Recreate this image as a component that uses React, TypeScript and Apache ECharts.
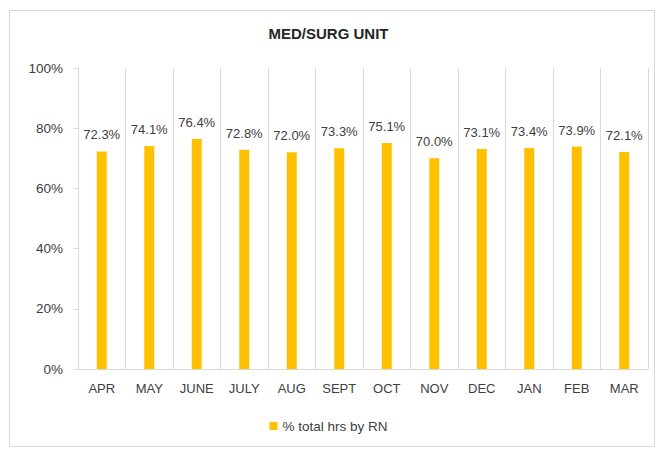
import React, { useEffect, useRef } from "react";
import * as echarts from "echarts";

const months = ["APR", "MAY", "JUNE", "JULY", "AUG", "SEPT", "OCT", "NOV", "DEC", "JAN", "FEB", "MAR"];
const rnPercent = [72.3, 74.1, 76.4, 72.8, 72.0, 73.3, 75.1, 70.0, 73.1, 73.4, 73.9, 72.1];
const seriesName = "% total hrs by RN";
const chartTitle = "MED/SURG UNIT";

export default function App() {
  const ref = useRef<HTMLDivElement>(null);
  useEffect(() => {
    document.body.style.margin = "0";
    const chart = echarts.init(ref.current!, null, { renderer: "svg" });
    const font = "Liberation Sans, Arial, sans-serif";
    chart.setOption({
      animation: false,
      backgroundColor: "#ffffff",
      textStyle: { fontFamily: font },
      graphic: [
        {
          type: "rect",
          shape: { x: 9.5, y: 10.5, width: 645, height: 436 },
          style: { fill: "none", stroke: "#D9D9D9", lineWidth: 1 },
          silent: true,
        },
      ],
      title: {
        text: chartTitle,
        left: "center",
        top: 21,
        textStyle: { fontSize: 15, fontWeight: "bold", color: "#262626", fontFamily: font },
      },
      legend: {
        bottom: 11,
        left: "center",
        itemWidth: 8,
        itemHeight: 8,
        icon: "rect",
        itemGap: 6,
        textStyle: { fontSize: 13.5, color: "#404040", fontFamily: font },
        data: [seriesName],
      },
      grid: { left: 78, right: 9, top: 68, bottom: 80, containLabel: false },
      xAxis: {
        type: "category",
        data: months,
        boundaryGap: true,
        axisLine: { show: true, lineStyle: { color: "#D9D9D9", width: 1 } },
        axisTick: { show: false },
        splitLine: { show: true, lineStyle: { color: "#D9D9D9", width: 1 } },
        axisLabel: { color: "#404040", fontSize: 13, margin: 13, fontFamily: font },
      },
      yAxis: {
        type: "value",
        min: 0,
        max: 100,
        interval: 20,
        axisLine: { show: true, lineStyle: { color: "#D9D9D9", width: 1 } },
        axisTick: { show: true, length: 5, lineStyle: { color: "#D9D9D9" } },
        splitLine: { show: false },
        axisLabel: {
          color: "#404040",
          fontSize: 13.5,
          margin: 15,
          fontFamily: font,
          formatter: (v: number) => v + "%",
        },
      },
      series: [
        {
          name: seriesName,
          type: "bar",
          data: rnPercent,
          barWidth: 10,
          itemStyle: { color: "#FFC000" },
          label: {
            show: true,
            position: "top",
            distance: 10,
            color: "#404040",
            fontSize: 13,
            fontFamily: font,
            formatter: (p: any) => Number(p.value).toFixed(1) + "%",
          },
        },
      ],
    });
    return () => chart.dispose();
  }, []);
  return <div ref={ref} style={{ width: 657, height: 449 }} />;
}
